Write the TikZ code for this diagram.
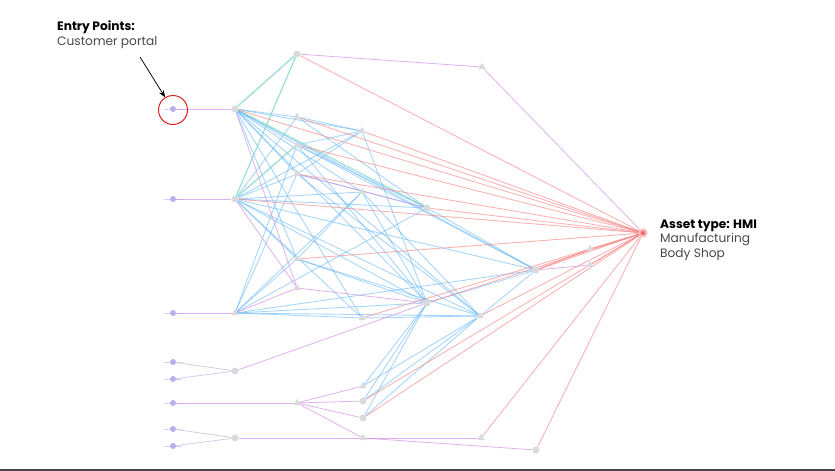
\documentclass[tikz,border=0pt]{standalone}
\usepackage{fontspec}
\setmainfont{Poppins}
\usetikzlibrary{backgrounds,shapes.geometric,arrows.meta}
\definecolor{edgeblue}{RGB}{105,185,248}
\definecolor{edgered}{RGB}{248,125,125}
\definecolor{edgepink}{RGB}{212,145,230}
\definecolor{edgegreen}{RGB}{130,232,165}
\definecolor{edgefaint}{RGB}{200,205,228}
\definecolor{nodegray}{RGB}{218,218,218}
\definecolor{entryblue}{RGB}{178,178,238}
\definecolor{targetred}{RGB}{240,110,110}
\definecolor{txtgray}{RGB}{72,72,72}
\begin{document}
\begin{tikzpicture}[x=1pt,y=-1pt,
  hop/.style={circle,fill=nodegray,inner sep=0pt,minimum size=7pt},
  hoptri/.style={regular polygon,regular polygon sides=3,fill=nodegray,inner sep=0pt,minimum size=8.5pt},
  entry/.style={circle,fill=entryblue,inner sep=0pt,minimum size=6pt},
  target/.style={circle,fill=targetred,inner sep=0pt,minimum size=7pt,draw=targetred!45,line width=2pt},
  bl/.style={draw=edgeblue,line width=0.85pt,opacity=0.6},
  rd/.style={draw=edgered,line width=0.85pt,opacity=0.6},
  pk/.style={draw=edgepink,line width=0.8pt,opacity=0.7},
  gr/.style={draw=edgegreen,line width=0.8pt,opacity=0.6},
  ft/.style={draw=edgefaint,line width=0.7pt},
  stub/.style={draw=entryblue!60,line width=0.6pt},
  ring/.style={circle,draw={rgb,255:red,225;green,30;blue,30},line width=1pt,minimum size=29pt,inner sep=0pt},
  boldlbl/.style={font=\bfseries\fontsize{12.2}{14}\selectfont,text=black,anchor=base west,inner sep=0pt},
  lbl/.style={font=\fontsize{12.2}{14}\selectfont,text=txtgray,anchor=base west,inner sep=0pt}
]
\useasboundingbox (0,0) rectangle (835,471);
\draw[draw={rgb,255:red,70;green,70;blue,70},line width=1.5pt] (0,470) -- (835,470);

% entry points
\node[entry] (E1) at (173,109) {};
\node[entry] (E2) at (173,199) {};
\node[entry] (E3) at (173,313) {};
\node[entry] (E4) at (173,362) {};
\node[entry] (E5) at (173,379) {};
\node[entry] (E6) at (173,403) {};
\node[entry] (E7) at (173,429) {};
\node[entry] (E8) at (173,446) {};
% hops
\node[hop] (A1) at (235,109) {};
\node[hop] (A2) at (235,199) {};
\node[hoptri] (A3) at (235,313) {};
\node[hop] (A4) at (235,371) {};
\node[hop] (A5) at (235,438) {};
\node[hop] (B1) at (297,54) {};
\node[hoptri] (B2) at (297,117) {};
\node[hoptri] (B3) at (297,145) {};
\node[hoptri] (B4) at (297,174) {};
\node[hoptri] (B5) at (297,259) {};
\node[hoptri] (B6) at (297,288) {};
\node[hoptri] (B7) at (297,403) {};
\node[hoptri] (C1) at (362,131) {};
\node[hoptri] (C2) at (362,192) {};
\node[hoptri] (C3) at (362,318) {};
\node[hoptri] (C4) at (363,386) {};
\node[hop] (C5) at (363,401) {};
\node[hop] (C6) at (363,418) {};
\node[hoptri] (C7) at (363,438) {};
\node[hop] (D1) at (427,208) {};
\node[hop] (D2) at (427,303) {};
\node[hoptri] (F1) at (482,67) {};
\node[hoptri] (F2) at (480,316) {};
\node[hoptri] (F3) at (481,438) {};
\node[hop] (G1) at (536,270) {};
\node[hop] (G2) at (536,450) {};
\node[hoptri] (H1) at (590,249) {};
\node[hoptri] (H2) at (590,265) {};
\node[target] (T) at (643,233) {};

\begin{scope}[on background layer]
\fill[white] (0,0) rectangle (835,471);
\foreach \e in {E1,E2,E3,E4,E5,E6,E7,E8}
  \draw[stub] ([xshift=-9pt]\e.center) -- ([xshift=9pt]\e.center);
\foreach \a/\b in {E4/A4,E5/A4,E7/A5,E8/A5}
  \draw[ft] (\a) -- (\b);
\foreach \a/\b in {
  A1/B1,A1/B2,A1/C1,A1/B3,A1/B4,A1/C2,A1/D1,A1/B5,A1/C3,A1/D2,A1/F2,A1/G1,
  A2/B1,A2/B2,A2/C1,A2/B3,A2/C2,A2/D1,A2/B5,A2/C3,A2/D2,A2/F2,A2/G1,A2/B4,
  A3/B3,A3/B4,A3/B5,A3/C2,A3/D1,A3/C3,A3/D2,A3/F2,A3/G1,
  B2/C1,B3/C1,B4/C1,B3/D1,B4/D1,B2/D1,
  C1/D2,B3/D2,B4/F2,B5/D2,B5/F2,B3/G1,C2/D2,D1/G1,C2/F2,
  C3/F2,D2/G1,F2/G1,B5/C2,
  D2/C4,D2/C5,D2/C6,F2/C4,F2/C5,F2/C6}
  \draw[bl] (\a) -- (\b);
\foreach \a/\b in {A1/B1,A2/B1,A2/B3,A1/D1}
  \draw[gr] ([yshift=1pt]\a.center) -- ([yshift=1pt]\b.center);
\foreach \a in {A1,B1,B2,B3,C1,B4,A2,D1,B5,C3,D2,F2,C5,C6,F3,G2,G1,H1,H2}
  \draw[rd] (\a) -- (T);
\draw[rd,line width=1.3pt] (G1) -- (H1);
\foreach \a/\b in {E1/A1,E2/A2,E3/A3,E6/B7,A1/B6,A2/B6,A3/B6,B6/D2,A4/D2,
  B4/D1,B1/F1,F1/T,B7/C4,B7/C5,B7/C6,B7/C7,A5/C7,C7/F3,C7/G2,G1/H2}
  \draw[pk] (\a) -- (\b);
\end{scope}

% annotation
\node[ring] (ringE1) at (173,110) {};
\coordinate (arrtail) at (140,57);
\draw[-{Stealth[length=7pt,width=5.5pt]},line width=0.75pt] (arrtail) -- (ringE1);
\node[boldlbl] (ep1) at (57,30) {Entry Points:};
\node[lbl] (ep2) at (57,45) {Customer portal};
\node[boldlbl] (at1) at (660,228.5) {Asset type: HMI};
\node[lbl] (at2) at (660,242.5) {Manufacturing};
\node[lbl] (at3) at (660,257) {Body Shop};
\end{tikzpicture}
\end{document}
